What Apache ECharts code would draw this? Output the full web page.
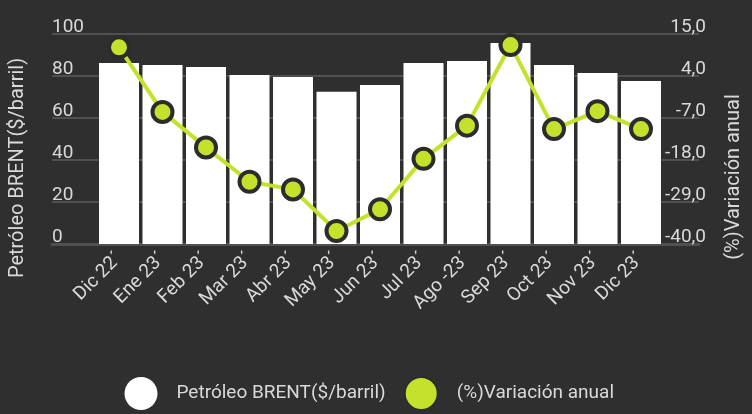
<!DOCTYPE html>
<html>
<head>
<meta charset="utf-8">
<script src="https://cdn.jsdelivr.net/npm/echarts@6/dist/echarts.min.js"></script>
<style>
  html, body { margin: 0; padding: 0; background: #2f2f2f; }
  #chart { width: 752px; height: 414px; }
</style>
</head>
<body>
<div id="chart"></div>
<script>
// Monthly Brent price and its year-on-year change
const months = ["Dic 22´", "Ene 23´", "Feb 23´", "Mar 23´", "Abr 23´", "May 23´", "Jun 23´",
                "Jul 23´", "Ago -23´", "Sep 23´", "Oct 23´", "Nov 23´", "Dic 23´"];
const brentPrice = [86.2, 85.2, 84.3, 80.5, 79.5, 72.5, 75.7, 86.2, 87.1, 95.7, 85.2, 81.4, 77.6];
const annualChange = [11.5, -5.4, -14.7, -23.7, -25.7, -36.6, -30.9, -17.7, -9.0, 12.1, -9.9, -5.2, -9.9];
const priceTicks = [0, 20, 40, 60, 80, 100];
const changeTicks = [-40, -29, -18, -7, 4, 15];

const textColor = "#d9d9d9";
const gridColor = "#505050";
const font = "Roboto";

const chart = echarts.init(document.getElementById("chart"));
chart.setOption({
  backgroundColor: "#2f2f2f",
  textStyle: { fontFamily: font },
  grid: [
    // wide frame carrying the tick labels and guide lines
    { left: 49, right: 40, top: 34, bottom: 170 },
    // plotting area for the monthly columns and the line
    { left: 97.25, right: 89.25, top: 34, bottom: 170 }
  ],
  legend: {
    left: 119.5, top: 371,
    icon: "circle",
    itemWidth: 33, itemHeight: 33, itemGap: 18,
    textStyle: { color: textColor, fontSize: 19, fontFamily: font, padding: [0, 0, 0, 14] },
    data: ["Petróleo BRENT($/barril)", "(%)Variación anual"]
  },
  xAxis: [
    {
      gridIndex: 0, type: "value", min: 0, max: 1, position: "bottom",
      axisLine: { show: true, lineStyle: { color: gridColor, width: 3 } },
      axisTick: { show: false }, axisLabel: { show: false }, splitLine: { show: false }
    },
    {
      gridIndex: 1, type: "category", data: months,
      axisLine: { show: false }, axisTick: { show: false },
      axisLabel: {
        interval: 0, rotate: 45, margin: 12,
        color: textColor, fontSize: 19, fontFamily: font
      }
    }
  ],
  yAxis: [
    {
      gridIndex: 0, type: "value", min: priceTicks[0], max: priceTicks[priceTicks.length - 1],
      interval: 20, position: "left",
      name: "Petróleo BRENT($/barril)", nameLocation: "middle", nameRotate: 90, nameGap: 24,
      nameTextStyle: { color: textColor, fontSize: 20, fontFamily: font, padding: [0, 58, 0, 0] },
      axisLine: { show: false }, axisTick: { show: false },
      axisLabel: {
        inside: true, margin: 0, verticalAlign: "bottom", lineHeight: 13,
        color: textColor, fontSize: 19, fontFamily: font,
        customValues: priceTicks
      },
      splitLine: { show: true, lineStyle: { color: gridColor, width: 2 } }
    },
    {
      gridIndex: 0, type: "value", min: changeTicks[0], max: changeTicks[changeTicks.length - 1],
      position: "right",
      name: "(%)Variación anual", nameLocation: "middle", nameRotate: 90, nameGap: 25,
      nameTextStyle: { color: textColor, fontSize: 20, fontFamily: font, padding: [0, 76, 0, 0] },
      axisLine: { show: false }, axisTick: { show: false, customValues: changeTicks },
      axisLabel: {
        inside: true, margin: -7, verticalAlign: "bottom", lineHeight: 13,
        color: textColor, fontSize: 19, fontFamily: font,
        customValues: changeTicks,
        formatter: v => v.toFixed(1).replace(".", ",")
      },
      splitLine: { show: false }
    },
    {
      gridIndex: 1, type: "value", min: priceTicks[0], max: priceTicks[priceTicks.length - 1],
      show: false, splitLine: { show: false }
    },
    {
      gridIndex: 1, type: "value", min: changeTicks[0], max: changeTicks[changeTicks.length - 1],
      show: false, splitLine: { show: false }
    }
  ],
  series: [
    {
      name: "Petróleo BRENT($/barril)", type: "bar",
      xAxisIndex: 1, yAxisIndex: 2,
      data: brentPrice, barWidth: 40,
      itemStyle: { color: "#ffffff" }
    },
    {
      name: "(%)Variación anual", type: "line",
      xAxisIndex: 1, yAxisIndex: 3,
      data: annualChange,
      symbol: "circle", symbolSize: 20,
      lineStyle: { color: "#c6e12b", width: 4 },
      itemStyle: { color: "#c6e12b", borderColor: "#2c2c2c", borderWidth: 4 },
      z: 5
    }
  ]
});
</script>
</body>
</html>
